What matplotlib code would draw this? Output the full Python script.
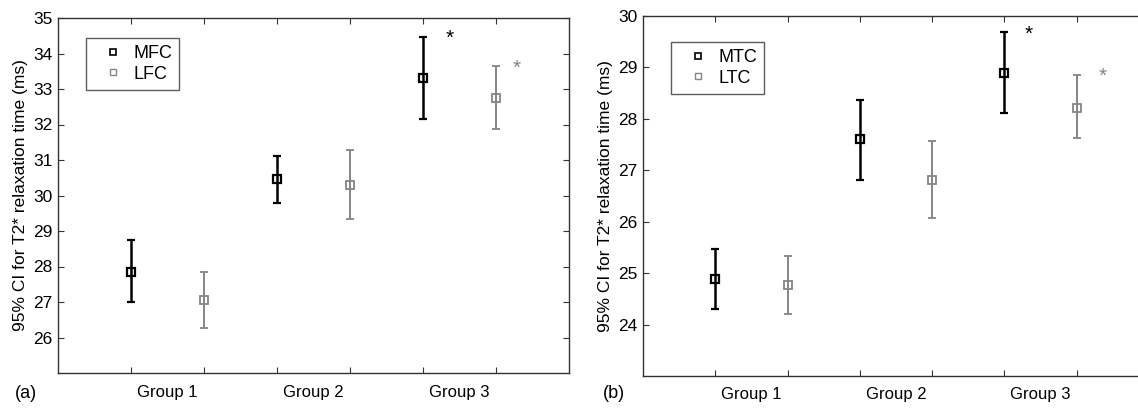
import matplotlib
matplotlib.use('Agg')
import matplotlib.pyplot as plt
from matplotlib.lines import Line2D

plt.rcParams['font.family'] = ['Liberation Sans', 'DejaVu Sans']

# panel (a): femoral condyles
groups = ['Group 1', 'Group 2', 'Group 3']
mfc_mean = [27.85, 30.46, 33.32]
mfc_low = [27.00, 29.78, 32.15]
mfc_high = [28.74, 31.12, 34.46]
lfc_mean = [27.05, 30.29, 32.75]
lfc_low = [26.27, 29.33, 31.88]
lfc_high = [27.85, 31.27, 33.64]

# panel (b): tibial condyles
mtc_mean = [24.88, 27.60, 28.90]
mtc_low = [24.30, 26.82, 28.12]
mtc_high = [25.46, 28.36, 29.68]
ltc_mean = [24.76, 26.82, 28.22]
ltc_low = [24.21, 26.08, 27.62]
ltc_high = [25.34, 27.56, 28.85]

GREY = '#858585'
ylabel = '95% CI for T2* relaxation time (ms)'


def draw_panel(ax, m1, lo1, hi1, m2, lo2, hi2, names, ylim, yticks, star1, star2, leg_box):
    x1 = [1, 3, 5]
    x2 = [2, 4, 6]
    err1 = [[m - l for m, l in zip(m1, lo1)], [h - m for m, h in zip(m1, hi1)]]
    err2 = [[m - l for m, l in zip(m2, lo2)], [h - m for m, h in zip(m2, hi2)]]
    ax.errorbar(x1, m1, yerr=err1, fmt='s', color='black', mfc='none', mec='black',
                ms=6, mew=1.6, elinewidth=1.8, capsize=3, capthick=1.8)
    ax.errorbar(x2, m2, yerr=err2, fmt='s', color=GREY, mfc='none', mec=GREY,
                ms=6, mew=1.3, elinewidth=1.4, capsize=3, capthick=1.4)
    ax.text(star1[0], star1[1], '*', color='black', fontsize=15, ha='center', va='center')
    ax.text(star2[0], star2[1], '*', color=GREY, fontsize=15, ha='center', va='center')

    ax.set_xlim(0, 7)
    ax.set_ylim(*ylim)
    ax.set_yticks(yticks)
    ax.set_xticks([1, 2, 3, 4, 5, 6])
    ax.set_xticklabels([])
    for xc, g in zip([1.5, 3.5, 5.5], groups):
        ax.annotate(g, (xc, 0), xycoords=ax.get_xaxis_transform(), xytext=(0, -19),
                    textcoords='offset pixels', ha='center', va='center', fontsize=12)
    ax.tick_params(direction='in', top=True, right=True, length=4, width=0.8,
                   labelsize=12.5, colors='#333333', labelcolor='black', pad=4)
    for s in ax.spines.values():
        s.set_linewidth(1.0)
        s.set_color('#333333')
    ax.set_ylabel(ylabel, fontsize=12.5)

    handles = [Line2D([], [], ls='none', marker='s', ms=4.5, mfc='none', mec='black', mew=1.2),
               Line2D([], [], ls='none', marker='s', ms=4.5, mfc='none', mec=GREY, mew=1.0)]
    leg = ax.legend(handles, names, loc='upper left', bbox_to_anchor=leg_box, borderaxespad=0,
                    fontsize=13, frameon=True, fancybox=False, handlelength=2.2,
                    handletextpad=0.0, borderpad=0.4, labelspacing=0.2)
    leg.get_frame().set_edgecolor('#333333')
    leg.get_frame().set_linewidth(1.0)


fig = plt.figure(figsize=(11.38, 4.08), dpi=100)
ax1 = fig.add_axes([58 / 1138, 35 / 408, 511 / 1138, 355 / 408])
ax2 = fig.add_axes([643 / 1138, 32 / 408, 506 / 1138, 360 / 408])

draw_panel(ax1, mfc_mean, mfc_low, mfc_high, lfc_mean, lfc_low, lfc_high, ['MFC', 'LFC'],
           (25, 35), list(range(26, 36)), (5.37, 34.42), (6.29, 33.59), (0.055, 0.944))
draw_panel(ax2, mtc_mean, mtc_low, mtc_high, ltc_mean, ltc_low, ltc_high, ['MTC', 'LTC'],
           (23, 30), list(range(24, 31)), (5.33, 29.65), (6.36, 28.82), (0.056, 0.928))

ax1.yaxis.set_label_coords(-0.058, 0.5)
ax2.yaxis.set_label_coords(-0.059, 0.5)

fig.text(15 / 1138, 1 - 394 / 408, '(a)', fontsize=13, ha='left', va='center')
fig.text(603 / 1138, 1 - 394 / 408, '(b)', fontsize=13, ha='left', va='center')

fig.savefig('out.png', dpi=100)
